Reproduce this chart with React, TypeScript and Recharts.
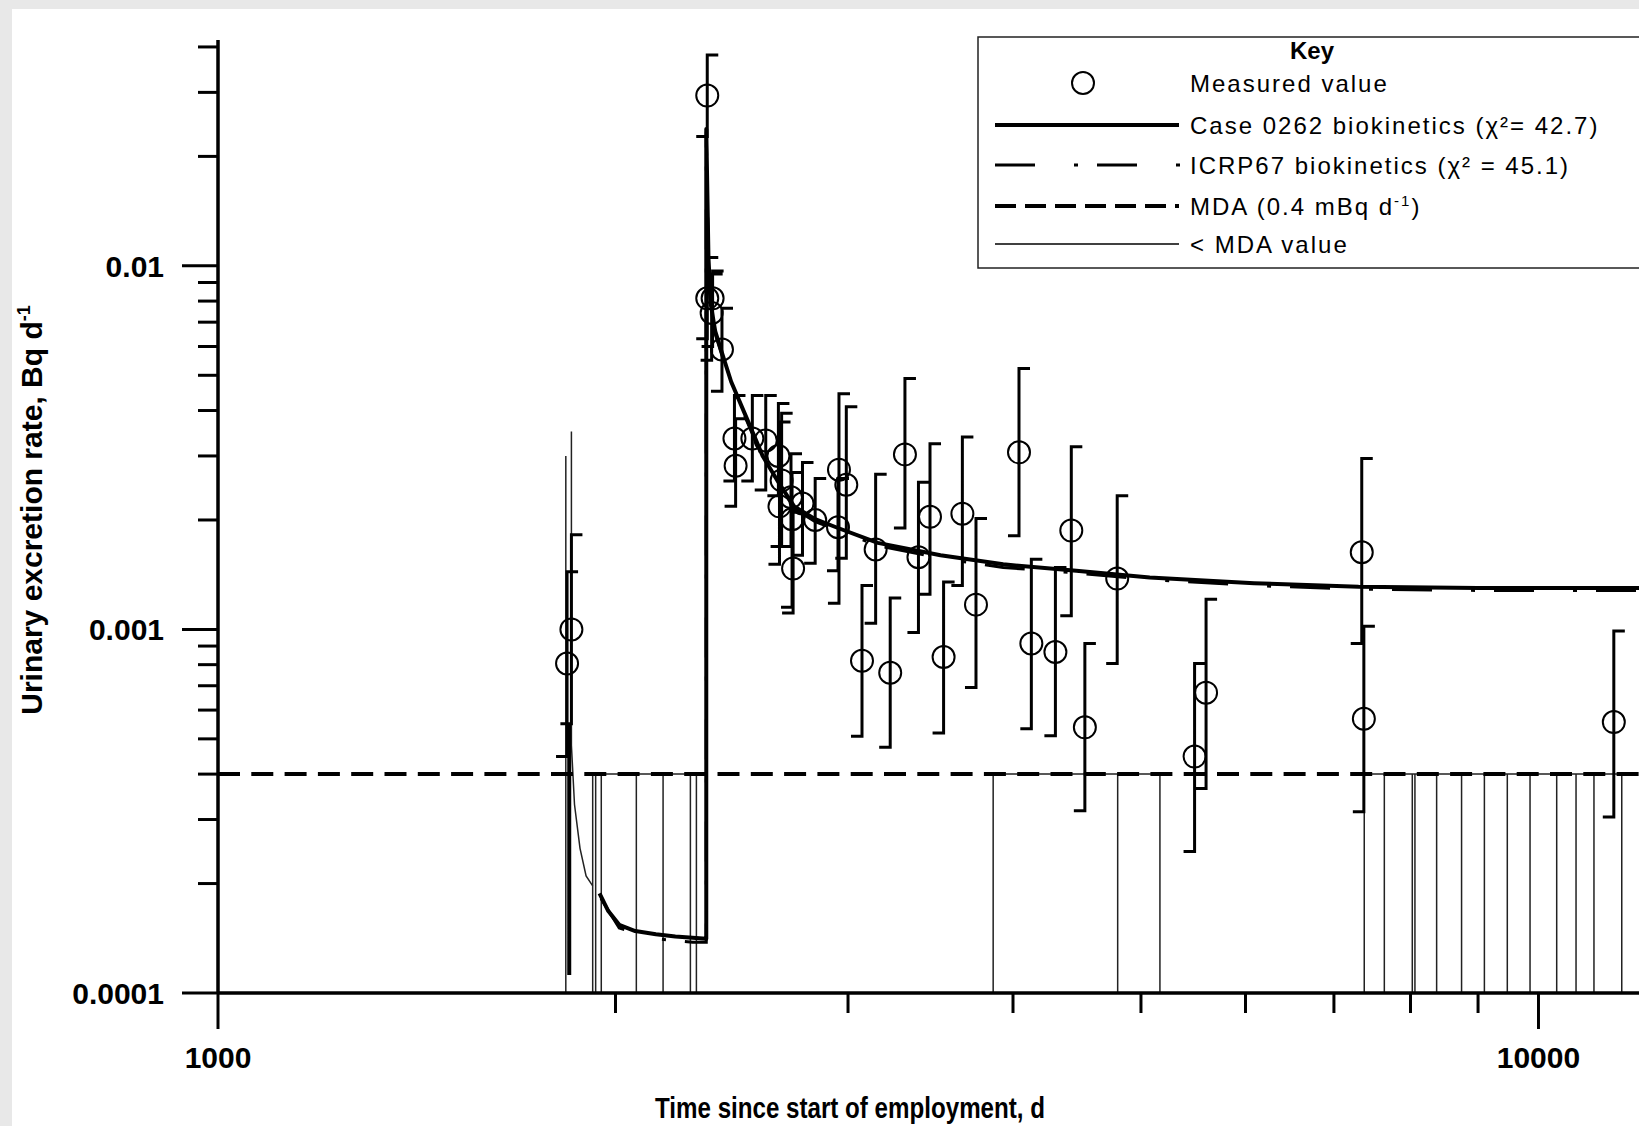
import React from "react";
import { ComposedChart, XAxis, YAxis, Line, Scatter, ReferenceLine } from "recharts";

// measured urinary excretion (day since start of employment, Bq/d, error bar ends)
const measuredDays = [
  1838, 1852, 2347, 2347, 2369, 2365, 2408, 2461, 2466, 2539, 2599, 2657, 2672, 2662,
  2716, 2721, 2726, 2771, 2833, 2953, 2991, 2948, 3074, 3148, 3229, 3313, 3392, 3461,
  3544, 3662, 3750, 4042, 4130, 4307, 4428, 4534, 4797, 5490, 5601, 7348, 7375, 11404,
];
const measuredRate = [
  0.000806, 0.001, 0.0294, 0.00814, 0.00814, 0.00742, 0.00589, 0.00335, 0.00282, 0.00335,
  0.00331, 0.003, 0.00257, 0.00218, 0.00231, 0.00201, 0.00147, 0.00222, 0.002, 0.00275,
  0.0025, 0.00191, 0.00082, 0.00166, 0.00076, 0.00303, 0.00158, 0.00204, 0.00084, 0.00208,
  0.00117, 0.00307, 0.000915, 0.000867, 0.00187, 0.000538, 0.00138, 0.000447, 0.00067,
  0.00163, 0.000568, 0.000556,
];
const errorLow = [
  0.000447, 0.00055, 0.0227, 0.0063, 0.006, 0.0055, 0.00452, 0.00256, 0.00218, 0.00256,
  0.00242, 0.00233, 0.00169, 0.00151, 0.00169, 0.00115, 0.00111, 0.0016, 0.00152, 0.00118,
  0.00157, 0.00145, 0.000508, 0.00104, 0.000474, 0.0019, 0.00098, 0.00125, 0.000519, 0.00132,
  0.000692, 0.00181, 0.000533, 0.00051, 0.00109, 0.000317, 0.000806, 0.000245, 0.000365,
  0.000915, 0.000315, 0.000305,
];
const errorHigh = [
  0.00144, 0.00182, 0.038, 0.01055, 0.00968, 0.0095, 0.00764, 0.0044, 0.0038, 0.0044,
  0.0044, 0.00418, 0.00393, 0.00372, 0.00304, 0.0027, 0.0021, 0.00288, 0.0026, 0.00445,
  0.0041, 0.0026, 0.00132, 0.00267, 0.00122, 0.0049, 0.00254, 0.00324, 0.00135, 0.00338,
  0.00202, 0.00522, 0.00156, 0.00148, 0.00318, 0.000915, 0.00233, 0.000806, 0.00121,
  0.00295, 0.00102, 0.00099,
];

// Case 0262 model curve (null = break)
const caseDays = [
  1845, 1845, 1900, 1945, 1975, 2013, 2070, 2146, 2220, 2288, 2343, 2343, 2352, 2362, 2380,
  2403, 2447, 2515, 2585, 2657, 2731, 2833, 2938, 3160, 3525, 3932, 4467, 5077, 6091, 7308,
  9000, 11916,
];
const caseRate = [
  0.000112, 0.00055, null, 0.000188, 0.000168, 0.000154, 0.000148, 0.000145, 0.000143,
  0.000142, 0.000141, 0.0238, 0.0105, 0.0078, 0.0066, 0.0059, 0.0048, 0.0038, 0.003, 0.00254,
  0.00218, 0.00201, 0.00191, 0.00173, 0.0016, 0.00151, 0.00145, 0.00139, 0.00134, 0.00131,
  0.0013, 0.0013,
];

// ICRP67 model curve
const icrpDays = [
  1950, 2013, 2146, 2288, 2343, 2343, 2352, 2362, 2380, 2403, 2447, 2515, 2585, 2657, 2731,
  2833, 2938, 3160, 3525, 3932, 4467, 5077, 6091, 7308, 9000, 11916,
];
const icrpRate = [
  0.000182, 0.000151, 0.000141, 0.000138, 0.000138, 0.0234, 0.0103, 0.0077, 0.0065, 0.0058,
  0.00472, 0.00374, 0.00296, 0.0025, 0.00215, 0.00198, 0.00188, 0.0017, 0.00157, 0.00148,
  0.00143, 0.00137, 0.00132, 0.00129, 0.00128, 0.00128,
];

// thin early-intake trace
const earlyDays = [1834, 1834, 1840, 1852, 1852, 1862, 1880, 1900, 1922];
const earlyRate = [0.0001, 0.003, null, 0.0035, 0.00048, 0.00033, 0.00025, 0.00021, 0.000197];

// samples below the MDA, by run
const belowMdaDays = [
  [1922, 1932, 1951, 2074, 2173, 2279, 2303],
  [3864, 4801, 5168],
  [7380, 7643, 8025, 8062, 8373, 8745, 9100, 9471, 9854, 10323, 10677, 11016, 11563],
];
const MDA = 0.0004;

const xTicks = [1000, 2000, 3000, 4000, 5000, 6000, 7000, 8000, 9000, 10000];
const xLabelled = [1000, 10000];
const yTicks = [
  0.0001, 0.0002, 0.0003, 0.0004, 0.0005, 0.0006, 0.0007, 0.0008, 0.0009,
  0.001, 0.002, 0.003, 0.004, 0.005, 0.006, 0.007, 0.008, 0.009,
  0.01, 0.02, 0.03, 0.04,
];
const yLabelled = [0.0001, 0.001, 0.01];

const X_DOMAIN = [1000, 11916];
const Y_DOMAIN = [0.0001, 0.0418];
const CAP = 1.0194;
const FONT = "'Liberation Sans', Arial, sans-serif";

const measured = measuredDays.map((t, i) => ({ t, v: measuredRate[i] }));
const errorPath = measuredDays.flatMap((t, i) => [
  { t: t * CAP, v: errorHigh[i] },
  { t, v: errorHigh[i] },
  { t, v: errorLow[i] },
  { t: t / CAP, v: errorLow[i] },
  { t, v: null },
]);
const casePath = caseDays.map((t, i) => ({ t, v: caseRate[i] }));
const icrpPath = icrpDays.map((t, i) => ({ t, v: icrpRate[i] }));
const earlyPath = earlyDays.map((t, i) => ({ t, v: earlyRate[i] }));
const mdaPath = belowMdaDays.flatMap((run) => [
  ...run.flatMap((t, j) =>
    j === 0
      ? [{ t, v: Y_DOMAIN[0] }, { t, v: MDA }]
      : [{ t, v: MDA }, { t, v: Y_DOMAIN[0] }, { t, v: MDA }]
  ),
  { t: run[run.length - 1], v: null },
]);

const XTick = (props: any) => {
  const { x, y, payload } = props;
  const major = xLabelled.includes(payload.value);
  return (
    <g>
      <line x1={x} x2={x} y1={y} y2={y + (major ? 36 : 20)} stroke="#000" strokeWidth={3} />
      {major && (
        <text x={x} y={y + 75} textAnchor="middle" fontFamily={FONT} fontWeight="bold" fontSize={30} fill="#000">
          {payload.value}
        </text>
      )}
    </g>
  );
};

const YTick = (props: any) => {
  const { x, y, payload } = props;
  const major = yLabelled.includes(payload.value);
  return (
    <g>
      <line x1={x - (major ? 36 : 20)} x2={x} y1={y} y2={y} stroke="#000" strokeWidth={3} />
      {major && (
        <text x={x - 54} y={y + 11} textAnchor="end" fontFamily={FONT} fontWeight="bold" fontSize={30} fill="#000">
          {String(payload.value)}
        </text>
      )}
    </g>
  );
};

const Ring = (props: any) => (
  <circle cx={props.cx} cy={props.cy} r={11} fill="none" stroke="#000" strokeWidth={2} />
);

function Key() {
  const txt = { fontFamily: FONT, fontSize: 24, letterSpacing: 2, fill: "#000" } as const;
  return (
    <svg width={662} height={234} style={{ position: "absolute", left: 977, top: 36 }}>
      <rect x={1} y={1} width={720} height={231} fill="#fff" stroke="#222" strokeWidth={1.5} />
      <text x={335} y={23} textAnchor="middle" fontFamily={FONT} fontWeight="bold" fontSize={24}>Key</text>
      <circle cx={106} cy={47} r={11} fill="none" stroke="#000" strokeWidth={2} />
      <text x={213} y={56} {...txt}>Measured value</text>
      <line x1={18} x2={202} y1={89} y2={89} stroke="#000" strokeWidth={4} />
      <text x={213} y={98} {...txt}>Case 0262 biokinetics (χ²= 42.7)</text>
      <line x1={18} x2={203} y1={129} y2={129} stroke="#000" strokeWidth={3} strokeDasharray="40 39 4 19" />
      <text x={213} y={138} {...txt}>ICRP67 biokinetics (χ² = 45.1)</text>
      <line x1={18} x2={202} y1={170} y2={170} stroke="#000" strokeWidth={4} strokeDasharray="21 9" />
      <text x={213} y={179} {...txt}>
        MDA (0.4 mBq d<tspan fontSize={15} dy={-9}>-1</tspan><tspan dy={9}>)</tspan>
      </text>
      <line x1={18} x2={202} y1={208} y2={208} stroke="#000" strokeWidth={1.5} />
      <text x={213} y={217} {...txt}>&lt; MDA value</text>
    </svg>
  );
}

export default function App() {
  return (
    <div style={{ position: "absolute", left: 0, top: 0, width: 1639, height: 1126, background: "#e8e8e8", overflow: "hidden" }}>
      <div style={{ position: "absolute", left: 12, top: 9, width: 1627, height: 1117, background: "#fff" }} />
      <div style={{ position: "absolute", left: 0, top: 0 }}>
        <ComposedChart width={1639} height={1126} margin={{ top: 40, right: 0, bottom: 0, left: 0 }}>
          <XAxis
            dataKey="t"
            type="number"
            scale="log"
            domain={X_DOMAIN}
            allowDataOverflow
            ticks={xTicks}
            interval={0}
            height={133}
            tick={<XTick />}
            tickLine={false}
            tickSize={0}
            tickMargin={0}
            axisLine={{ stroke: "#000", strokeWidth: 3.5 }}
            label={{
              content: () => (
                <text
                  x={850}
                  y={1118}
                  textAnchor="middle"
                  fontFamily={FONT}
                  fontWeight="bold"
                  fontSize={30}
                  textLength={390}
                  lengthAdjust="spacingAndGlyphs"
                  fill="#000"
                >
                  Time since start of employment, d
                </text>
              ),
            }}
          />
          <YAxis
            dataKey="v"
            type="number"
            scale="log"
            domain={Y_DOMAIN}
            allowDataOverflow
            ticks={yTicks}
            interval={0}
            width={218}
            tick={<YTick />}
            tickLine={false}
            tickSize={0}
            tickMargin={0}
            axisLine={{ stroke: "#000", strokeWidth: 3.5 }}
            label={{
              content: () => (
                <text x={42} y={510} transform="rotate(-90 42 510)" textAnchor="middle" fontFamily={FONT} fontWeight="bold" fontSize={30} fill="#000">
                  Urinary excretion rate, Bq d<tspan fontSize={18} dy={-12}>-1</tspan>
                </text>
              ),
            }}
          />
          <Line data={mdaPath} dataKey="v" stroke="#222" strokeWidth={1.5} dot={false} activeDot={false} isAnimationActive={false} />
          <Line data={earlyPath} dataKey="v" stroke="#222" strokeWidth={1.5} dot={false} activeDot={false} isAnimationActive={false} />
          <ReferenceLine y={MDA} stroke="#000" strokeWidth={4} strokeDasharray="22 11.3" />
          <Line data={icrpPath} dataKey="v" stroke="#000" strokeWidth={3} strokeDasharray="40 39 4 19" dot={false} activeDot={false} isAnimationActive={false} />
          <Line data={casePath} dataKey="v" stroke="#000" strokeWidth={4} strokeLinejoin="round" dot={false} activeDot={false} isAnimationActive={false} />
          <Line data={errorPath} dataKey="v" stroke="#000" strokeWidth={3} dot={false} activeDot={false} isAnimationActive={false} />
          <Scatter data={measured} dataKey="v" shape={<Ring />} isAnimationActive={false} />
        </ComposedChart>
      </div>
      <Key />
    </div>
  );
}
